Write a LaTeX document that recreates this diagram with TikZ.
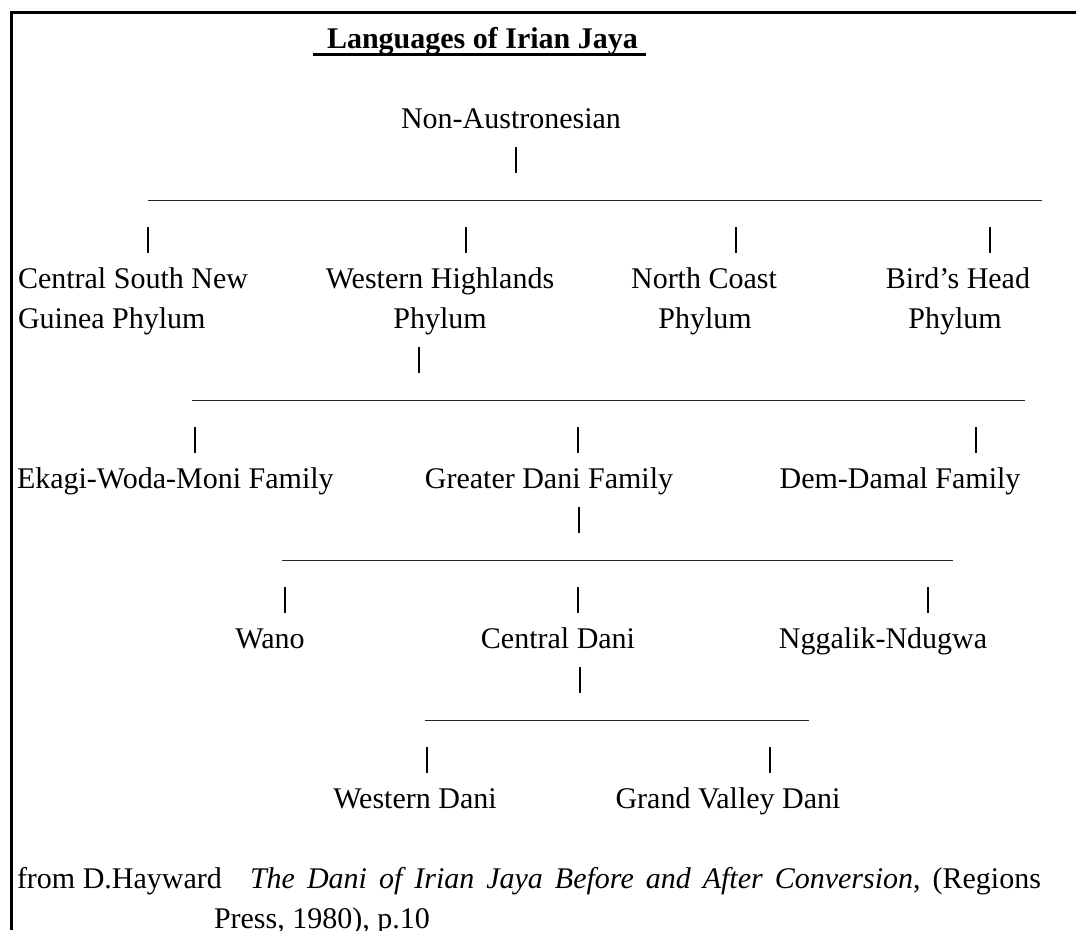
\documentclass[tikz,border=0pt]{standalone}
\usepackage{fontspec}
\setmainfont{Liberation Serif}
\begin{document}
\begin{tikzpicture}[x=1pt,y=-1pt,
  txt/.style={inner sep=0pt, outer sep=0pt, font=\fontsize{30}{40}\selectfont},
  frameline/.style={line width=3pt, black},
  hline/.style={line width=1.3pt, black!85},
  vbar/.style={line width=1.2pt, black},
  boldbar/.style={line width=2.4pt, black}]
\useasboundingbox (0,0) rectangle (1076,930);
% frame
\coordinate (fr1) at (1076,12);
\coordinate (fr2) at (11.5,12);
\coordinate (fr3) at (11.5,930);
\draw[frameline] (fr1) -- (fr2) -- (fr3);
% title
\node[txt, anchor=base west, font=\fontsize{30}{40}\selectfont\bfseries] (title) at (327,48) {Languages of Irian Jaya};
\coordinate (ul1) at (313,54.5);
\coordinate (ul2) at (646,54.5);
\draw[line width=3pt] (ul1) -- (ul2);
% level 0
\node[txt, anchor=base] (nonaus) at (511,128) {Non-Austronesian};
% level 1
\node[txt, anchor=base west] (csng) at (18,288) {Central South New};
\node[txt, anchor=base west] (csng2) at (18,328) {Guinea Phylum};
\node[txt, anchor=base] (wh) at (440,288) {Western Highlands};
\node[txt, anchor=base] (wh2) at (440,328) {Phylum};
\node[txt, anchor=base] (nc) at (704,288) {North Coast};
\node[txt, anchor=base] (nc2) at (705,328) {Phylum};
\node[txt, anchor=base] (bh) at (958,288) {Bird's Head};
\node[txt, anchor=base] (bh2) at (955,328) {Phylum};
% level 2
\node[txt, anchor=base west] (ekagi) at (17,488) {Ekagi-Woda-Moni Family};
\node[txt, anchor=base] (gdani) at (549,488) {Greater Dani Family};
\node[txt, anchor=base] (demdamal) at (900,488) {Dem-Damal Family};
% level 3
\node[txt, anchor=base] (wano) at (270,648) {Wano};
\node[txt, anchor=base] (cdani) at (558,648) {Central Dani};
\node[txt, anchor=base] (nggalik) at (883,648) {Nggalik-Ndugwa};
% level 4
\node[txt, anchor=base] (wdani) at (415,808) {Western Dani};
\node[txt, anchor=base] (gvdani) at (728,808) {Grand Valley Dani};
% citation
\node[txt, anchor=base west] (cite1) at (17,888) {from D.Hayward};
\node[txt, anchor=base west] (cite2) at (250,888) {\spaceskip=12pt\textit{The Dani of Irian Jaya Before and After Conversion}, (Regions};
\node[txt, anchor=base west] (cite3) at (214,928) {Press, 1980), p.10};
% horizontal rules
\coordinate (h1a) at (148,200.5); \coordinate (h1b) at (1042,200.5);
\coordinate (h2a) at (192,400.5); \coordinate (h2b) at (1025,400.5);
\coordinate (h3a) at (282,560.5); \coordinate (h3b) at (953,560.5);
\coordinate (h4a) at (425,720.5); \coordinate (h4b) at (809,720.5);
\draw[hline] (h1a) -- (h1b);
\draw[hline] (h2a) -- (h2b);
\draw[hline] (h3a) -- (h3b);
\draw[hline] (h4a) -- (h4b);
% vertical bars
\coordinate (v0t) at (516,147); \coordinate (v0b) at (516,173);
\draw[boldbar] (v0t) -- (v0b);
\foreach \n/\x/\b in {a/148/248, b/466/248, c/736/248, d/990/248,
                      e/419/368,
                      f/195/448, g/578/448, h/976/448,
                      i/579/528,
                      j/285/608, k/578/608, l/928/608,
                      m/580/688,
                      n/427/768, o/770/768}{
  \coordinate (\n t) at (\x,\b-21);
  \coordinate (\n b) at (\x,\b+5);
  \draw[vbar] (\n t) -- (\n b);
}
\end{tikzpicture}
\end{document}
